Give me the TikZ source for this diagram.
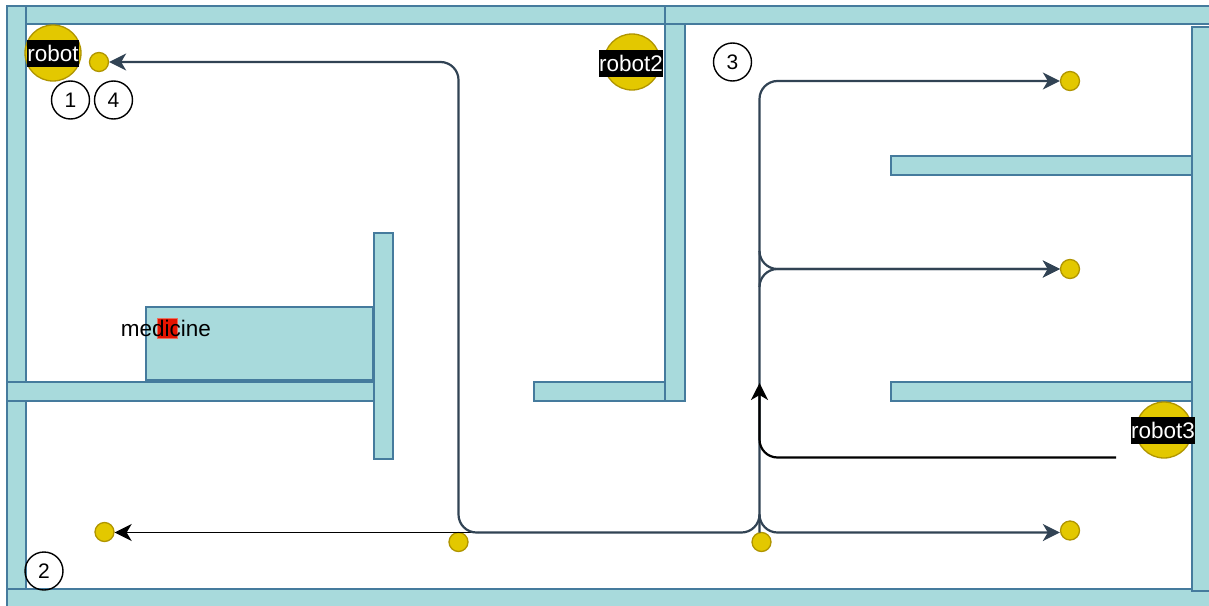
\documentclass[tikz,border=0pt]{standalone}
\usepackage{fontspec}
\setmainfont{Liberation Sans}
\usetikzlibrary{arrows.meta}
\definecolor{wallfill}{HTML}{A8DADC}
\definecolor{wallline}{HTML}{457B9D}
\definecolor{pathline}{HTML}{314354}
\definecolor{botfill}{HTML}{E3C800}
\definecolor{botline}{HTML}{B09500}
\definecolor{boxfill}{HTML}{E51400}
\definecolor{boxline}{HTML}{E87060}
\tikzset{
  wall/.style={draw=wallline,fill=wallfill,line width=1.6pt},
  bot/.style={circle,draw=botline,fill=botfill,line width=1.3pt,minimum size=56pt,inner sep=0pt},
  botname/.style={fill=black,text=white,inner xsep=0pt,inner ysep=0pt,minimum height=27pt,font=\fontsize{22.5}{24}\selectfont},
  wp/.style={circle,draw=botline,fill=botfill,line width=1.3pt,minimum size=19pt,inner sep=0pt},
  num/.style={circle,draw=black,line width=1.4pt,minimum size=38pt,inner sep=0pt,font=\fontsize{21}{24}\selectfont},
  route/.style={draw=pathline,line width=2.2pt,rounded corners=18pt,-{Stealth[length=17pt,width=17pt,inset=5pt]}},
  plainroute/.style={draw=pathline,line width=2.2pt,rounded corners=18pt},
  blackroute/.style={draw=black,line width=2.2pt,rounded corners=18pt,-{Stealth[length=17pt,width=17pt,inset=5pt]}}
}
\begin{document}
\begin{tikzpicture}[x=1pt,y=-1pt]
  \useasboundingbox (0,0) rectangle (1209,605);
  \fill[white] (0,0) rectangle (1209,605);

  \draw[wall] (665,24) rectangle (685,401);
  \draw[wall] (7,6) rectangle (665,24);
  \draw[wall] (665,6) rectangle (1215,24);
  \draw[wall] (7,6) rectangle (26,598);
  \draw[wall] (146,307) rectangle (372.5,380);
  \draw[wall] (7,382) rectangle (374,401);
  \draw[wall] (374,233) rectangle (393,459);
  \draw[wall] (534,382) rectangle (665,401);
  \draw[wall] (891,156) rectangle (1192,175);
  \draw[wall] (891,382) rectangle (1192,401);
  \draw[wall] (7,589) rectangle (1215,612);
  \draw[wall] (1192,27) rectangle (1215,591);

  \node[bot] (robotA) at (53,53) {};
  \node[bot] (robotB) at (632,62) {};
  \node[bot] (robotC) at (1164,430) {};
  \node[botname] (labelA) at (53,53) {robot};
  \node[botname] (labelB) at (631,63.5) {robot2};
  \node[botname] (labelC) at (1163,430.5) {robot3};

  \node[wp] (wpA) at (99,62) {};
  \node[wp] (wpB) at (104.5,532) {};
  \node[wp] (wpC) at (458.5,542) {};
  \node[wp] (wpD) at (761.5,542) {};
  \node[wp] (wpE) at (1070,81) {};
  \node[wp] (wpF) at (1070,269) {};
  \node[wp] (wpG) at (1070,530.5) {};

  \node[num] (numA) at (70.5,100) {1};
  \node[num] (numB) at (44,571) {2};
  \node[num] (numC) at (732.5,62) {3};
  \node[num] (numD) at (113.5,100) {4};

  \fill[boxfill,draw=boxline,line width=.5pt] (157,318) rectangle (177,338);
  \node[font=\fontsize{22.5}{24}\selectfont,inner sep=0pt] (medicine) at (166,328) {medicine};

  \coordinate (start) at (478,532.5);
  \coordinate (fork) at (759.5,532.5);
  \coordinate (forkup) at (759.5,383);
  \coordinate (forkmid) at (759.5,269);
  \coordinate (source) at (1116,457.5);

  \draw[blackroute,line width=1.7pt] (start) -- (wpB.east |- start);
  \draw[plainroute] (start) -- (fork) -- ++(0,-18);
  \draw[route] (start) -| (wpC.center |- wpA) -- (wpA.east);
  \draw[route] (fork) -- ++(0,-20) -- (759.5,81) -- (wpE.west);
  \draw[route] (forkmid) ++(0,-18) -- (forkmid) -- (wpF.west);
  \draw[route] (forkmid) ++(0,18) -- (forkmid) -- (wpF.west);
  \draw[route] (fork) ++(0,-18) -- (fork) -- (wpG.west |- fork);
  \draw[blackroute] (source) -- (forkup |- source) -- (forkup);
\end{tikzpicture}
\end{document}
